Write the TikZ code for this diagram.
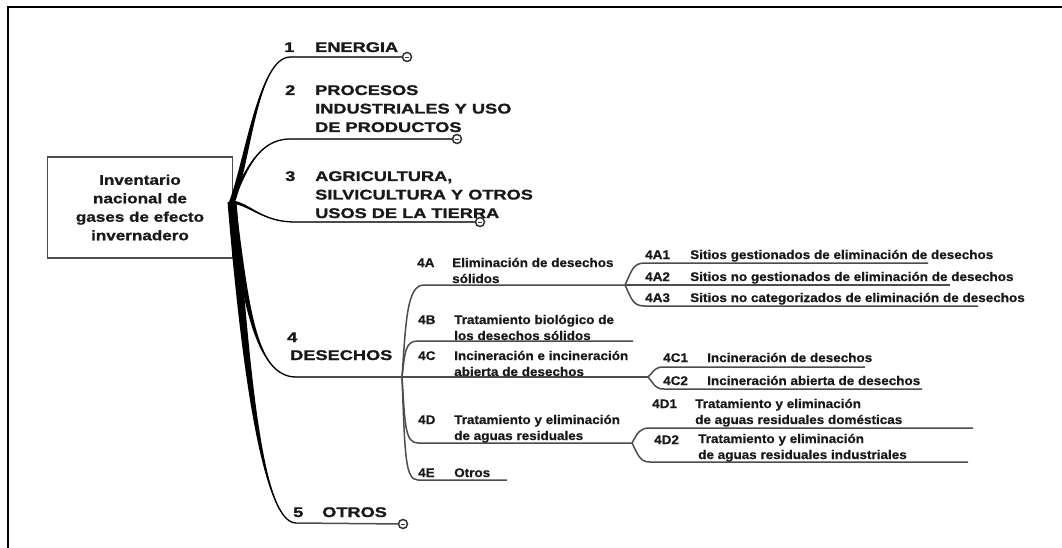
\documentclass[tikz,border=0pt]{standalone}
\usepackage{fontspec}
\setmainfont{Liberation Sans}[BoldFont={Liberation Sans Bold}]
\newfontfamily\fA{Liberation Sans}[BoldFont={Liberation Sans Bold}, FakeStretch=1.3, BoldFeatures={FakeBold=1.2}]
\newfontfamily\fR{Liberation Sans}[BoldFont={Liberation Sans Bold}, FakeStretch=1.22, BoldFeatures={FakeBold=1}]
\newfontfamily\fB{Liberation Sans}[BoldFont={Liberation Sans Bold}, FakeStretch=1.08, BoldFeatures={FakeBold=0.6}]
\usetikzlibrary{calc}
\definecolor{txt}{gray}{0.1}
\definecolor{ln}{gray}{0.3}
\newcommand\taperbranch[5]{%
  \fill[black] ($(#1)-(#5)$) .. controls ($(#2)-(#5)$) and (#3) .. (#4)
    .. controls (#3) and ($(#2)+(#5)$) .. ($(#1)+(#5)$) -- cycle;}
\tikzset{
  lone/.style={font=\fA\bfseries\fontsize{14}{18.5}\selectfont, text=txt, inner sep=0pt, anchor=base west, align=left},
  ltwo/.style={font=\fB\bfseries\fontsize{12.5}{16}\selectfont, text=txt, inner sep=0pt, anchor=base west, align=left},
  rootbox/.style={draw=ln, line width=1.1pt, minimum width=185pt, minimum height=101pt, align=center,
    font=\fR\bfseries\fontsize{14}{18.5}\selectfont, text=txt, inner sep=0pt},
  conn/.style={draw=ln, line width=1.5pt},
  core/.style={draw=black, line width=1.3pt},
  marker/.style={circle, draw=black!80, fill=white, line width=1.5pt, minimum size=9pt, inner sep=0pt,
    path picture={\draw[line width=0.9pt] ([xshift=-2pt]path picture bounding box.center) -- ([xshift=2pt]path picture bounding box.center);}}
}
\begin{document}
\begin{tikzpicture}[x=1pt,y=-1pt]
\path[use as bounding box, fill=white] (0,0) rectangle (1062,548);
% frame
\draw[line width=1.3pt] (7,7) -- (1062,7);
\draw[line width=2.4pt] (8,6) -- (8,548);
\draw[line width=2.6pt] (7,7) -- (22,7);

% root
\node[rootbox] (root) at (140,207.5) {Inventario\\nacional de\\gases de efecto\\invernadero};
\coordinate (R) at (232,202);

% level 1 endpoints
\coordinate (b1) at (290,57);
\coordinate (b2) at (290,139);
\coordinate (b3) at (295,222);
\coordinate (b4) at (296,377);
\coordinate (b5) at (296,523);
\coordinate (h4) at (402,377);
\node[marker] (m1) at (407,57) {};
\node[marker] (m2) at (457,139) {};
\node[marker] (m3) at (480,222) {};
\node[marker] (m5) at (403,524) {};

% tapered main branches
\taperbranch{R}{248,160}{258,58}{b1}{3,0}
\taperbranch{R}{245,172}{258,139}{b2}{1.6,0}
\taperbranch{R}{250,204}{262,222}{b3}{0,1.6}
\taperbranch{R}{245,300}{255,377}{b4}{3.5,0}
\taperbranch{R}{244,345}{260,523}{b5}{4.5,0}
\draw[core] (R) .. controls (248,160) and (258,58) .. (b1);
\draw[core] (R) .. controls (245,172) and (258,139) .. (b2);
\draw[core] (R) .. controls (250,204) and (262,222) .. (b3);
\draw[core] (R) .. controls (245,300) and (255,377) .. (b4);
\draw[core] (R) .. controls (244,345) and (260,523) .. (b5);
\draw[conn] (b1) -- (m1);
\draw[conn] (b2) -- (m2);
\draw[conn] (b3) -- (m3);
\draw[conn] (b4) -- (h4);
\draw[conn] (b5) -- (m5);

% level 1 labels (base anchor = last line)
\node[lone] (n1) at (284,52) {1};
\node[lone] (t1) at (315,52) {ENERGIA};
\node[lone] (n2) at (285,95) {2};
\node[lone] (t2) at (315,132) {PROCESOS\\INDUSTRIALES Y USO\\DE PRODUCTOS};
\node[lone] (n3) at (285,181) {3};
\node[lone] (t3) at (315,218) {AGRICULTURA,\\SILVICULTURA Y OTROS\\USOS DE LA TIERRA};
\node[lone] (n4) at (287,342) {4};
\node[lone] (t4) at (290,360) {DESECHOS};
\node[lone] (n5) at (293,517) {5};
\node[lone] (t5) at (322,517) {OTROS};

% level 2 connectors
\coordinate (k4A) at (424,285); \coordinate (h4A) at (625,285);
\coordinate (k4B) at (418,341); \coordinate (e4B) at (633,341);
\coordinate (h4C) at (648,377);
\coordinate (k4D) at (418,443); \coordinate (h4D) at (632,443);
\coordinate (k4E) at (418,480); \coordinate (e4E) at (507,480);
\draw[conn] (h4) .. controls (406,320) and (407,285) .. (k4A) -- (h4A);
\draw[conn] (h4) .. controls (405,352) and (405,341) .. (k4B) -- (e4B);
\draw[conn] (h4) -- (h4C);
\draw[conn] (h4) .. controls (405,425) and (405,443) .. (k4D) -- (h4D);
\draw[conn] (h4) .. controls (405,455) and (405,480) .. (k4E) -- (e4E);

% level 2 labels
\node[ltwo] (n4A) at (417,267) {4A};
\node[ltwo] (t4A) at (452,283) {Eliminación de desechos\\sólidos};
\node[ltwo] (n4B) at (418,324) {4B};
\node[ltwo] (t4B) at (454,340) {Tratamiento biológico de\\los desechos sólidos};
\node[ltwo] (n4C) at (418,360) {4C};
\node[ltwo] (t4C) at (454,376) {Incineración e incineración\\abierta de desechos};
\node[ltwo] (n4D) at (418,424) {4D};
\node[ltwo] (t4D) at (454,440) {Tratamiento y eliminación\\de aguas residuales};
\node[ltwo] (n4E) at (418,477) {4E};
\node[ltwo] (t4E) at (454,477) {Otros};

% level 3 connectors
\coordinate (k4A1) at (645,263); \coordinate (e4A1) at (928,263);
\coordinate (e4A2) at (950,285);
\coordinate (k4A3) at (645,306); \coordinate (e4A3) at (978,306);
\coordinate (k4C1) at (664,367); \coordinate (e4C1) at (865,367);
\coordinate (k4C2) at (664,389); \coordinate (e4C2) at (922,389);
\coordinate (k4D1) at (650,428); \coordinate (e4D1) at (973,428);
\coordinate (k4D2) at (650,462); \coordinate (e4D2) at (968,462);
\draw[conn] (h4A) .. controls (632,270) and (633,263) .. (k4A1) -- (e4A1);
\draw[conn] (h4A) -- (e4A2);
\draw[conn] (h4A) .. controls (632,300) and (633,306) .. (k4A3) -- (e4A3);
\draw[conn] (h4C) .. controls (655,370) and (655,367) .. (k4C1) -- (e4C1);
\draw[conn] (h4C) .. controls (655,385) and (655,389) .. (k4C2) -- (e4C2);
\draw[conn] (h4D) .. controls (638,432) and (640,428) .. (k4D1) -- (e4D1);
\draw[conn] (h4D) .. controls (638,455) and (640,462) .. (k4D2) -- (e4D2);

% level 3 labels
\node[ltwo] (n4A1) at (645,259) {4A1};
\node[ltwo] (t4A1) at (690,259) {Sitios gestionados de eliminación de desechos};
\node[ltwo] (n4A2) at (645,281) {4A2};
\node[ltwo] (t4A2) at (690,281) {Sitios no gestionados de eliminación de desechos};
\node[ltwo] (n4A3) at (645,302) {4A3};
\node[ltwo] (t4A3) at (690,302) {Sitios no categorizados de eliminación de desechos};
\node[ltwo] (n4C1) at (663,362) {4C1};
\node[ltwo] (t4C1) at (707,362) {Incineración de desechos};
\node[ltwo] (n4C2) at (663,385) {4C2};
\node[ltwo] (t4C2) at (707,385) {Incineración abierta de desechos};
\node[ltwo] (n4D1) at (652,408) {4D1};
\node[ltwo] (t4D1) at (695,424) {Tratamiento y eliminación\\de aguas residuales domésticas};
\node[ltwo] (n4D2) at (654,444) {4D2};
\node[ltwo] (t4D2) at (698,459) {Tratamiento y eliminación\\de aguas residuales industriales};
\end{tikzpicture}
\end{document}
